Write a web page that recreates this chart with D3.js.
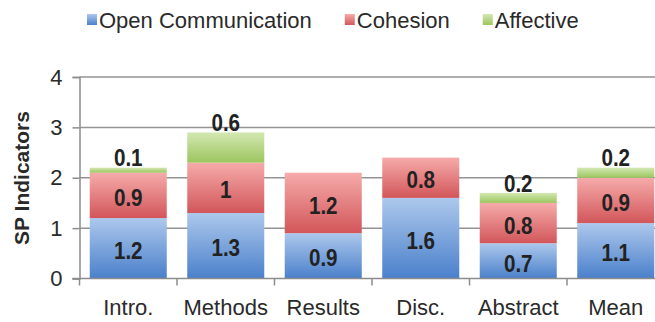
<!DOCTYPE html>
<html>
<head>
<meta charset="utf-8">
<script src="https://cdn.jsdelivr.net/npm/d3@7"></script>
<style>
  html, body { margin: 0; padding: 0; background: #fff; }
  svg { display: block; font-family: "Liberation Sans", Arial, sans-serif; }
</style>
</head>
<body>
<svg id="chart" width="655" height="322"></svg>
<script>
// Sections of the paper and the three SP indicator components per section
const categories = ["Intro.", "Methods", "Results", "Disc.", "Abstract", "Mean"];
const seriesNames = ["Open Communication", "Cohesion", "Affective"];
const openCommunication = [1.2, 1.3, 0.9, 1.6, 0.7, 1.1];
const cohesion = [0.9, 1, 1.2, 0.8, 0.8, 0.9];
const affective = [0.1, 0.6, 0, 0, 0.2, 0.2];
const yTicks = [0, 1, 2, 3, 4];

const seriesValues = [openCommunication, cohesion, affective];
const rows = categories.map((c, i) => {
  const r = { category: c };
  seriesNames.forEach((s, k) => { r[s] = seriesValues[k][i]; });
  return r;
});

const svg = d3.select("#chart");
const margin = { left: 79.5, top: 77, bottom: 43.5 };
const plotW = 585;            // six bands, the last one runs past the right edge
const plotH = 322 - margin.top - margin.bottom;

const x = d3.scaleBand().domain(categories)
  .range([margin.left, margin.left + plotW])
  .paddingInner(0.21).paddingOuter(0.105);
const y = d3.scaleLinear().domain([0, 4]).range([margin.top + plotH, margin.top]);

// Gradients: light at the top of each segment, deeper at the bottom
const fills = [
  { top: "#adc8ec", bottom: "#4a80cb" },
  { top: "#f6abaa", bottom: "#d2565a" },
  { top: "#d3e8b2", bottom: "#9cc55e" }
];
const defs = svg.append("defs");
fills.forEach((f, k) => {
  const g = defs.append("linearGradient").attr("id", "grad" + k)
    .attr("x1", 0).attr("y1", 0).attr("x2", 0).attr("y2", 1);
  g.append("stop").attr("offset", "0%").attr("stop-color", f.top);
  g.append("stop").attr("offset", "100%").attr("stop-color", f.bottom);
});

// Horizontal grid lines
svg.append("g")
  .selectAll("line").data(yTicks.filter(t => t > 0)).join("line")
  .attr("x1", margin.left).attr("x2", 700)
  .attr("y1", d => y(d)).attr("y2", d => y(d))
  .attr("stroke", "#939393").attr("stroke-width", 1.5);

// Y axis
const yAxis = svg.append("g")
  .attr("transform", `translate(${margin.left},0)`)
  .call(d3.axisLeft(y).tickValues(yTicks).tickFormat(d3.format("d")).tickSize(7).tickPadding(10));
yAxis.select(".domain").attr("stroke", "#8c8c8c").attr("stroke-width", 1.5);
yAxis.selectAll(".tick line").attr("stroke", "#8c8c8c").attr("stroke-width", 1.5);
yAxis.selectAll(".tick text").attr("font-size", 22).attr("fill", "#2a2a2a")
  .attr("font-family", "Liberation Sans, Arial, sans-serif");

// Stacked bars
const stack = d3.stack().keys(seriesNames);
const layers = stack(rows);

const layerG = svg.append("g").selectAll("g").data(layers).join("g")
  .attr("fill", (d, k) => `url(#grad${k})`);
layerG.selectAll("rect").data(d => d.filter(s => s[1] - s[0] > 0)).join("rect")
  .attr("x", d => x(d.data.category))
  .attr("width", x.bandwidth())
  .attr("y", d => y(d[1]))
  .attr("height", d => y(d[0]) - y(d[1]));

// X axis: baseline plus tick marks between the bands
const baseY = y(0);
svg.append("line")
  .attr("x1", margin.left - 7).attr("x2", 700)
  .attr("y1", baseY).attr("y2", baseY)
  .attr("stroke", "#8c8c8c").attr("stroke-width", 1.5);
const step = x.step();
const bounds = d3.range(categories.length + 1).map(i => margin.left + i * step);
svg.append("g").selectAll("line").data(bounds).join("line")
  .attr("x1", d => d).attr("x2", d => d)
  .attr("y1", baseY).attr("y2", baseY + 7)
  .attr("stroke", "#8c8c8c").attr("stroke-width", 1.5);

svg.append("g").selectAll("text").data(categories).join("text")
  .attr("x", d => x(d) + x.bandwidth() / 2)
  .attr("y", 315)
  .attr("text-anchor", "middle")
  .attr("font-size", 22).attr("fill", "#2a2a2a")
  .text(d => d);

// Value labels: centred in the lower two segments, above the bar for the top one
const labels = [];
layers.forEach((layer, k) => {
  layer.forEach(s => {
    const v = s[1] - s[0];
    if (v <= 0) return;
    const cx = x(s.data.category) + x.bandwidth() / 2;
    const cy = k < 2 ? (y(s[0]) + y(s[1])) / 2 + 2 : y(s[1]) - 10;
    labels.push({ cx, cy, v });
  });
});
// condensed bold face, drawn by squeezing the regular bold horizontally
svg.append("g").selectAll("text").data(labels).join("text")
  .attr("transform", d => `translate(${d.cx},${d.cy}) scale(0.86,1)`)
  .attr("dy", "0.36em")
  .attr("text-anchor", "middle")
  .attr("font-size", 24).attr("font-weight", "bold").attr("fill", "#222")
  .text(d => d3.format("")(d.v));

// Y axis title
svg.append("text")
  .attr("transform", "translate(21,178) rotate(-90)")
  .attr("text-anchor", "middle").attr("dy", "0.36em")
  .attr("font-size", 21).attr("font-weight", "bold").attr("fill", "#2a2a2a")
  .text("SP Indicators");

// Legend
const legend = svg.append("g").attr("transform", "translate(87,20)");
let lx = 0;
seriesNames.forEach((name, k) => {
  const item = legend.append("g").attr("transform", `translate(${lx},0)`);
  item.append("rect").attr("x", 0).attr("y", -6).attr("width", 10).attr("height", 11)
    .attr("fill", `url(#grad${k})`);
  const t = item.append("text").attr("x", 12).attr("y", 0).attr("dy", "0.35em")
    .attr("font-size", 22).attr("fill", "#2a2a2a").text(name);
  lx += 12 + t.node().getComputedTextLength() + 33;
});
</script>
</body>
</html>
